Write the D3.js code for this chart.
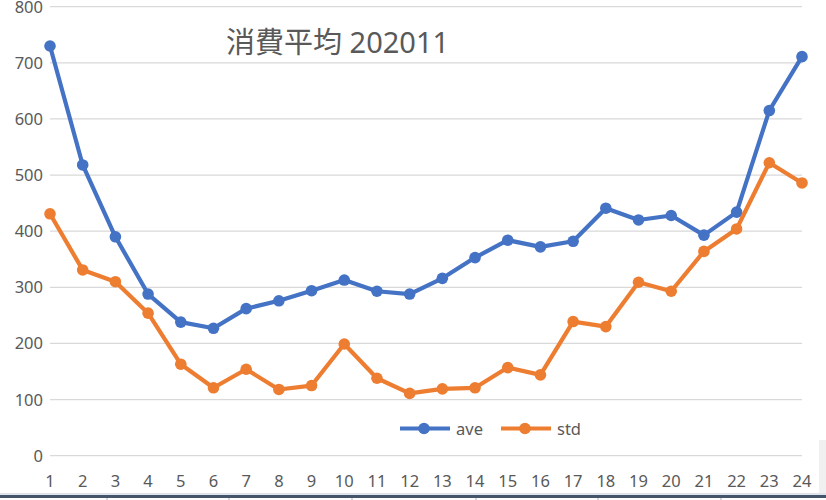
<!DOCTYPE html>
<html><head><meta charset="utf-8">
<script src="https://cdn.jsdelivr.net/npm/d3@7"></script>
<style>body{margin:0;background:#fff}svg{display:block}</style>
</head><body>
<svg id="c" width="826" height="500"></svg>
<script>
const categories = ["1","2","3","4","5","6","7","8","9","10","11","12","13","14","15","16","17","18","19","20","21","22","23","24"];
const aveValues = [730,518,390,288,238,227,262,276,294,313,293,288,316,353,384,372,382,441,420,428,393,434,615,711];
const stdValues = [431,331,310,254,163,121,154,118,125,199,138,111,119,121,157,144,239,230,309,293,364,404,522,486];
const yTicks = [0,100,200,300,400,500,600,700,800];
const seriesNames = ["ave","std"];
const colors = ["#4472C4","#ED7D31"];
const title = "消費平均 202011";

const svg = d3.select("#c");
const font = "'Noto Sans','Open Sans',sans-serif";
const x = d3.scalePoint().domain(categories).range([50,802]);
const y = d3.scaleLinear().domain([0,800]).range([455.7,6.7]);

// gridlines
svg.append("g").selectAll("line").data(yTicks).join("line")
  .attr("x1",50).attr("x2",802).attr("y1",d=>y(d)).attr("y2",d=>y(d))
  .attr("stroke","#d9d9d9").attr("stroke-width",1.3);

// y labels
svg.append("g").selectAll("text").data(yTicks).join("text")
  .attr("x",43).attr("y",d=>Math.max(y(d)+6,12.5)).attr("text-anchor","end")
  .attr("font-family",font).attr("font-size",16.5).attr("fill","#595959")
  .text(d=>d);

// x labels
svg.append("g").selectAll("text").data(categories).join("text")
  .attr("x",d=>x(d)).attr("y",487).attr("text-anchor","middle")
  .attr("font-family",font).attr("font-size",16.5).attr("fill","#595959")
  .text(d=>d);

// title
svg.append("text").attr("x",226).attr("y",53)
  .attr("font-family","'Noto Sans','Noto Sans CJK JP',sans-serif").attr("font-size",29)
  .attr("fill","#595959").text(title);

const series = [aveValues, stdValues];
const line = d3.line().x((d,i)=>x(categories[i])).y(d=>y(d));
series.forEach((vals,k)=>{
  const g = svg.append("g");
  g.append("path").datum(vals).attr("d",line).attr("fill","none")
    .attr("stroke",colors[k]).attr("stroke-width",4.2).attr("stroke-linejoin","round");
  g.selectAll("circle").data(vals).join("circle")
    .attr("cx",(d,i)=>x(categories[i])).attr("cy",d=>y(d)).attr("r",5.8)
    .attr("fill",colors[k]);
});

// legend
const legX = [400,501];
seriesNames.forEach((n,k)=>{
  const g = svg.append("g");
  g.append("line").attr("x1",legX[k]).attr("x2",legX[k]+50).attr("y1",428.5).attr("y2",428.5)
    .attr("stroke",colors[k]).attr("stroke-width",4.2);
  g.append("circle").attr("cx",legX[k]+24).attr("cy",428.5).attr("r",5.8).attr("fill",colors[k]);
  g.append("text").attr("x",legX[k]+56).attr("y",434.5).attr("font-family",font)
    .attr("font-size",16.5).attr("fill","#595959").text(n);
});

// bottom frame decoration
svg.append("rect").attr("x",0).attr("y",493).attr("width",826).attr("height",2).attr("fill","#dfe3ea");
svg.append("rect").attr("x",0).attr("y",495).attr("width",826).attr("height",3).attr("fill","#44546a");
[107,229,352,476,598,721].forEach(px=>{
  svg.append("line").attr("x1",px).attr("x2",px).attr("y1",498).attr("y2",500).attr("stroke","#b0b0b0");
});
svg.append("rect").attr("x",819).attr("y",440).attr("width",7).attr("height",53).attr("fill","#f0f0f0");
</script>
</body></html>
